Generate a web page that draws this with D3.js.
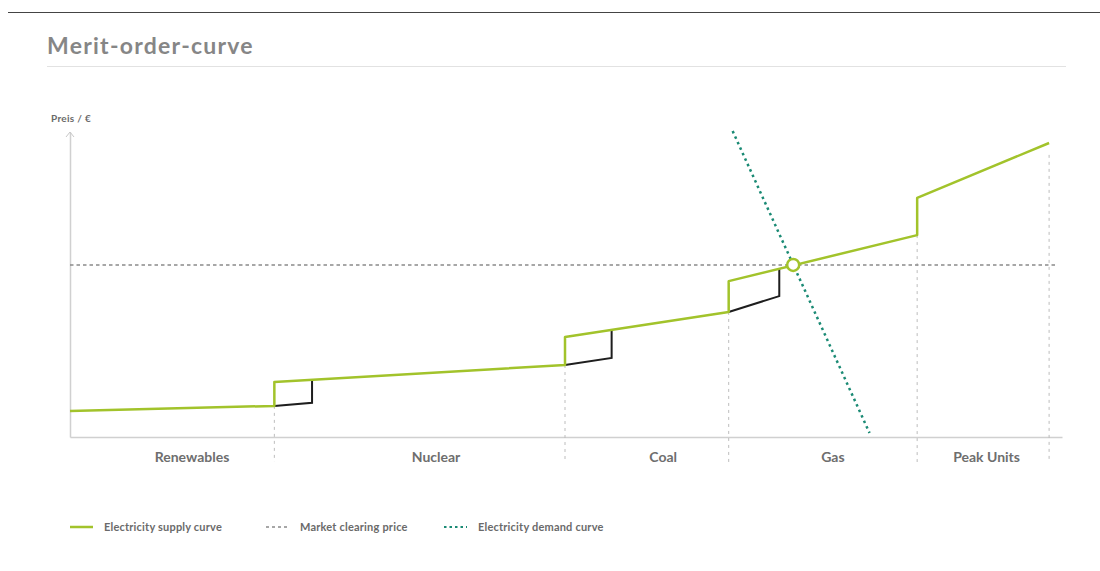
<!DOCTYPE html>
<html>
<head>
<meta charset="utf-8">
<script src="https://cdn.jsdelivr.net/npm/d3@7"></script>
<style>
  body { margin: 0; background: #fff; }
  svg text { font-family: Lato, "Open Sans", sans-serif; }
</style>
</head>
<body>
<div id="vis"></div>
<script>
// chart frame
const WIDTH = 1100;
const HEIGHT = 571;
const MARG = {left: 70, right: 38, top: 132, bottom: 134};

// data (capacity on x in %, price on y in arbitrary units)
const categories = ["Renewables", "Nuclear", "Coal", "Gas", "Peak Units"];
const boundaries = [0, 20.6, 49.9, 66.4, 85.4, 98.7];
const labelPos = [12.3, 36.9, 59.8, 76.9, 92.4];
const boundaryTop = [null, 10.2, 23.6, 41.0, 66.2, 92.5];

const supplyX = [0, 20.6, 20.6, 49.9, 49.9, 66.4, 66.4, 85.4, 85.4, 98.7];
const supplyP = [8.5, 10.2, 18.0, 23.6, 32.8, 41.0, 51.1, 66.2, 78.4, 96.4];

// the old supply curve before the shift (black pieces)
const oldSteps = [
    [[20.6, 10.2], [24.4, 11.2], [24.4, 18.7]],
    [[49.9, 23.6], [54.6, 25.9], [54.6, 35.1]],
    [[66.4, 41.0], [71.5, 46.2], [71.5, 55.1]]
];

const clearingPrice = 56.4;
const clearingX = [0, 99.6];
const demandX = [66.8, 80.6];
const demandP = [100.3, 1.3];
const equilibrium = [72.9, 56.4];

const legendItems = ["Electricity supply curve", "Market clearing price", "Electricity demand curve"];

const GREEN = "#a2c32b";
const TEAL = "#1a8a74";
const GREY = "#8a8a8a";

const X_SCALE = d3.scaleLinear().domain([0, 100]).range([MARG.left, 1062]);
const Y_SCALE = d3.scaleLinear().domain([0, 100]).range([HEIGHT - MARG.bottom, MARG.top]);

const svg = d3.select("#vis")
    .append("svg")
        .attr("width", WIDTH)
        .attr("height", HEIGHT);

// top rule + title
svg.append("line")
    .attr("x1", 8).attr("x2", WIDTH).attr("y1", 12.5).attr("y2", 12.5)
    .attr("stroke", "#444").attr("stroke-width", 1);
svg.append("text")
    .attr("x", 47).attr("y", 54)
    .attr("font-size", "23px").attr("font-weight", 700)
    .attr("letter-spacing", "1.25px")
    .attr("fill", "#868686")
    .text("Merit-order-curve");
svg.append("line")
    .attr("x1", 47).attr("x2", 1066).attr("y1", 66.5).attr("y2", 66.5)
    .attr("stroke", "#e2e2e2").attr("stroke-width", 1);

// axes (no ticks, just the lines)
svg.append("g")
    .attr("transform", "translate(" + MARG.left + ",0)")
    .call(d3.axisLeft(Y_SCALE).ticks(0).tickSizeOuter(0))
    .select(".domain").attr("stroke", "#d0d0d0").attr("stroke-width", 1.5);
svg.append("g")
    .attr("transform", "translate(0," + Y_SCALE(0) + ")")
    .call(d3.axisBottom(X_SCALE).ticks(0).tickSizeOuter(0))
    .select(".domain").attr("stroke", "#d0d0d0").attr("stroke-width", 1.5);

// arrow on y axis
svg.append("path")
    .attr("d", "M" + (MARG.left - 4) + "," + (MARG.top + 5) + "L" + MARG.left + "," + MARG.top + "L" + (MARG.left + 4) + "," + (MARG.top + 5))
    .attr("fill", "none").attr("stroke", "#c8c8c8").attr("stroke-width", 1);
svg.append("text")
    .attr("x", 51).attr("y", 122)
    .attr("font-size", "10px").attr("font-weight", 700).attr("fill", "#6a6a6a")
    .attr("letter-spacing", "0.3px")
    .text("Preis / €");

// vertical separators
svg.selectAll(".sep")
    .data(boundaries.slice(1).map((b, i) => [b, boundaryTop[i + 1]]))
    .enter().append("line")
    .attr("class", "sep")
    .attr("x1", (d) => X_SCALE(d[0])).attr("x2", (d) => X_SCALE(d[0]))
    .attr("y1", (d) => Y_SCALE(d[1])).attr("y2", Y_SCALE(-8.2))
    .attr("stroke", "#bdbdbd").attr("stroke-width", 1)
    .attr("stroke-dasharray", "3,4");

// category labels
svg.selectAll(".cat")
    .data(categories)
    .enter().append("text")
    .attr("class", "cat")
    .attr("x", (d, i) => X_SCALE(labelPos[i]))
    .attr("y", Y_SCALE(-8.2))
    .attr("text-anchor", "middle")
    .attr("font-size", "14px").attr("font-weight", 700).attr("fill", "#6e6e6e")
    .text((d) => d);

// market clearing price
svg.append("line")
    .attr("x1", X_SCALE(clearingX[0])).attr("x2", X_SCALE(clearingX[1]))
    .attr("y1", Y_SCALE(clearingPrice)).attr("y2", Y_SCALE(clearingPrice))
    .attr("stroke", GREY).attr("stroke-width", 1.5)
    .attr("stroke-dasharray", "3.5,3");

// demand curve
svg.append("line")
    .attr("x1", X_SCALE(demandX[0])).attr("x2", X_SCALE(demandX[1]))
    .attr("y1", Y_SCALE(demandP[0])).attr("y2", Y_SCALE(demandP[1]))
    .attr("stroke", TEAL).attr("stroke-width", 2.5)
    .attr("stroke-dasharray", "2.5,3.5");

const line = d3.line().x((d) => X_SCALE(d[0])).y((d) => Y_SCALE(d[1]));

// old (black) pieces
svg.selectAll(".old")
    .data(oldSteps)
    .enter().append("path")
    .attr("class", "old")
    .attr("d", line)
    .attr("fill", "none").attr("stroke", "#1e1e1e").attr("stroke-width", 2);

// supply curve
svg.append("path")
    .datum(supplyX.map((x, i) => [x, supplyP[i]]))
    .attr("d", line)
    .attr("fill", "none").attr("stroke", GREEN).attr("stroke-width", 2.5)
    .attr("stroke-linejoin", "round");

// equilibrium marker
svg.append("circle")
    .attr("cx", X_SCALE(equilibrium[0])).attr("cy", Y_SCALE(equilibrium[1]))
    .attr("r", 6)
    .attr("fill", "#fff").attr("stroke", GREEN).attr("stroke-width", 2.5);

// legend
const legendX = [70, 266, 444];
const legendStyles = [
    {stroke: GREEN, dash: null, w: 2.5},
    {stroke: GREY, dash: "3,3", w: 1.5},
    {stroke: TEAL, dash: "2.5,3", w: 2}
];
const lg = svg.selectAll(".legend")
    .data(legendItems)
    .enter().append("g")
    .attr("class", "legend")
    .attr("transform", (d, i) => "translate(" + legendX[i] + ",527)");
lg.append("line")
    .attr("x1", 0).attr("x2", 23).attr("y1", 0).attr("y2", 0)
    .attr("stroke", (d, i) => legendStyles[i].stroke)
    .attr("stroke-width", (d, i) => legendStyles[i].w)
    .attr("stroke-dasharray", (d, i) => legendStyles[i].dash);
lg.append("text")
    .attr("x", 34).attr("y", 4)
    .attr("font-size", "11px").attr("font-weight", 700).attr("fill", "#6a6a6a")
    .attr("letter-spacing", "0.2px")
    .text((d) => d);
</script>
</body>
</html>
